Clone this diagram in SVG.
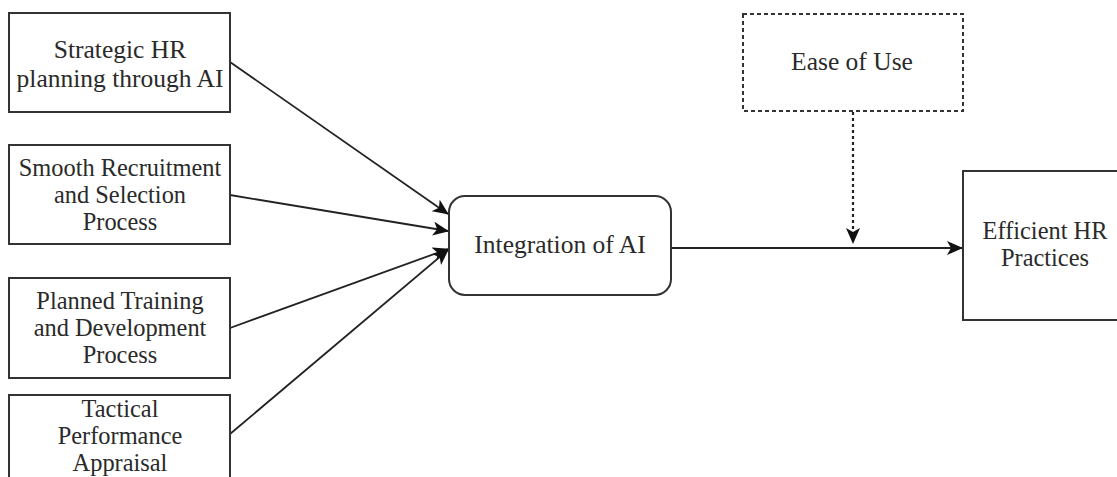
<svg xmlns="http://www.w3.org/2000/svg" width="1117" height="477" viewBox="0 0 1117 477">
<style>
.box{fill:#fff;stroke:#333;stroke-width:2}
.dash{fill:#fff;stroke:#333;stroke-width:2;stroke-dasharray:4 3}
.t{font-family:"Liberation Serif","Times New Roman",serif;font-size:24.4px;fill:#2a2a2a;text-anchor:middle}
.big{font-size:25.5px}
.c{fill:none;stroke:#222;stroke-width:1.8}
.cd{fill:none;stroke:#222;stroke-width:2.2;stroke-dasharray:3 3}
</style>
<defs>
<marker id="ah" markerUnits="userSpaceOnUse" markerWidth="16" markerHeight="14" viewBox="0 0 16 14" refX="15" refY="7" orient="auto">
<path d="M0,0 L16,7 L0,14 L4,7 z" fill="#111"/>
</marker>
</defs>
<rect width="1117" height="477" fill="#fff"/>
<g id="connectors">
<line class="c" x1="230" y1="62" x2="448" y2="214" marker-end="url(#ah)"/>
<line class="c" x1="230" y1="195" x2="448" y2="231" marker-end="url(#ah)"/>
<line class="c" x1="230" y1="328" x2="448" y2="249" marker-end="url(#ah)"/>
<line class="c" x1="230" y1="434" x2="448" y2="250" marker-end="url(#ah)"/>
<line class="c" x1="671" y1="248" x2="962" y2="248" marker-end="url(#ah)"/>
<line class="cd" x1="853" y1="112" x2="853" y2="243" marker-end="url(#ah)"/>
</g>
<g id="n1">
<rect class="box" x="9" y="13" width="221" height="99"/>
<text class="t big" x="120" y="58">Strategic HR</text>
<text class="t big" x="120" y="87">planning through AI</text>
</g>
<g id="n2">
<rect class="box" x="9" y="145" width="221" height="99"/>
<text class="t" x="120" y="176">Smooth Recruitment</text>
<text class="t" x="120" y="203">and Selection</text>
<text class="t" x="120" y="230">Process</text>
</g>
<g id="n3">
<rect class="box" x="9" y="278" width="221" height="100"/>
<text class="t" x="120" y="309">Planned Training</text>
<text class="t" x="120" y="336">and Development</text>
<text class="t" x="120" y="363">Process</text>
</g>
<g id="n4">
<rect class="box" x="9" y="395" width="221" height="100"/>
<text class="t" x="120" y="417">Tactical</text>
<text class="t" x="120" y="444">Performance</text>
<text class="t" x="120" y="471">Appraisal</text>
</g>
<g id="n5">
<rect class="box" x="449" y="196" width="222" height="99" rx="16" ry="16"/>
<text class="t big" x="560" y="253">Integration of AI</text>
</g>
<g id="n6">
<rect class="dash" x="743" y="14" width="220" height="97"/>
<text class="t big" x="852" y="70">Ease of Use</text>
</g>
<g id="n7">
<rect class="box" x="963" y="171" width="200" height="149"/>
<text class="t" x="1045" y="239">Efficient HR</text>
<text class="t" x="1045" y="266">Practices</text>
</g>
</svg>
